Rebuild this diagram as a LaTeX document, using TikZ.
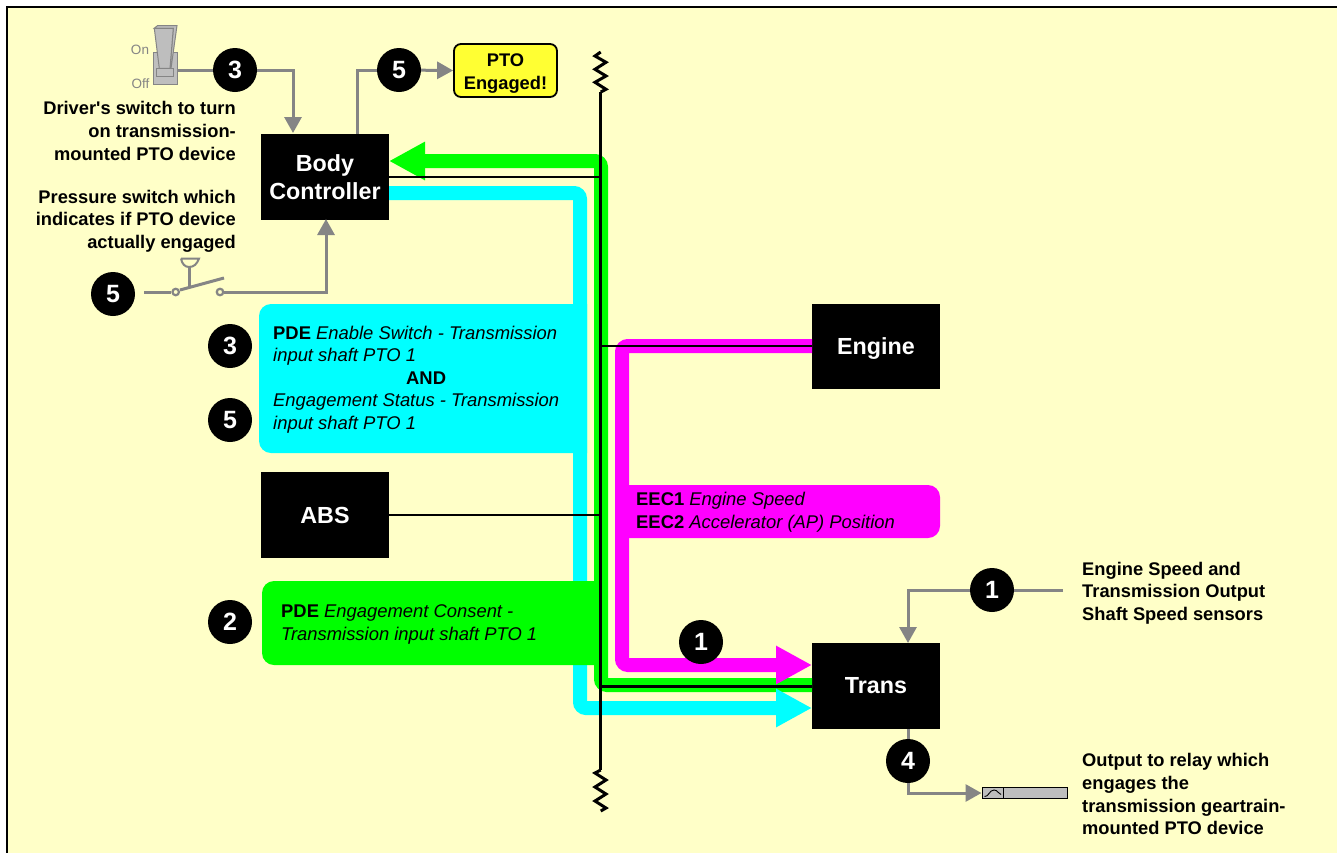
\documentclass[tikz,border=0pt]{standalone}
\usepackage{fontspec}
\setmainfont{Liberation Sans}
\newfontface\plainbold{Liberation Sans Bold}
\usetikzlibrary{arrows.meta}
\definecolor{cream}{HTML}{FFFFC8}
\definecolor{gline}{HTML}{858585}
\definecolor{gfill}{HTML}{BEBEBE}
\definecolor{ggreen}{HTML}{00FF00}
\definecolor{gcyan}{HTML}{00FFFF}
\definecolor{gmag}{HTML}{FF00FF}
\definecolor{pyell}{HTML}{FFFF33}
\tikzset{
  x=1pt,y=-1pt,
  ecu/.style={fill=black,text=white,draw=none,font=\fontsize{23.3}{28}\selectfont\bfseries,align=center,inner sep=0pt,minimum width=128pt},
  num/.style={circle,fill=black,text=white,draw=none,minimum size=44pt,inner sep=0pt,font=\fontsize{25}{25}\selectfont\bfseries},
  lab/.style={inner sep=0pt,font=\fontsize{18.3}{22.6}\selectfont\bfseries},
  msg/.style={inner sep=0pt,anchor=west,font=\fontsize{18.4}{22.6}\selectfont\itshape,align=left},
  bus/.style={line width=3pt,black},
  branch/.style={line width=2.6pt,black},
  sig/.style={line width=3pt,gline},
  sigtip/.style={sig,-{Triangle[length=16pt,width=17pt]}},
  fat/.style={line width=14pt,rounded corners=6pt,-{Triangle[length=36pt,width=36pt]}},
  swpart/.style={draw=gline,fill=gfill,line width=1pt},
  terminal/.style={circle,draw=gline,line width=2.2pt,fill=cream,minimum size=6.5pt,inner sep=0pt},
}
\begin{document}
\begin{tikzpicture}
\useasboundingbox (0,0) rectangle (1337,852);
\fill[white] (0,0) rectangle (1337,852);
\fill[cream,draw=black,line width=2pt] (7,7) rectangle (1350,865);

% nodes: ECUs
\node[ecu,minimum height=86pt] (body) at (325,177) {Body\\Controller};
\node[ecu,minimum height=85pt,text depth=-3pt] (engine) at (876,346.5) {Engine};
\node[ecu,minimum height=86pt] (abs) at (325,515) {ABS};
\node[ecu,minimum height=86pt] (trans) at (876,686) {Trans};

% junction coordinates
\coordinate (bG) at (389,161);
\coordinate (bC) at (389,193);
\coordinate (tG) at (812,685);
\coordinate (tC) at (812,708);
\coordinate (tM) at (812,665);
\coordinate (eM) at (812,346);

% fat message arrows
\draw[fat,ggreen] (tG) -- (601,685) -- (601,161) -- (bG);
\draw[fat,gcyan] (bC) -- (580,193) -- (580,708) -- (tC);
\fill[gcyan,rounded corners=12pt] (587,304) -- (259,304) -- (259,453) -- (587,453);
\fill[ggreen,rounded corners=12pt] (600,581) -- (262,581) -- (262,665) -- (600,665);
\draw[fat,gmag] (eM) -- (622,346) -- (622,665) -- (tM);
\fill[gmag,rounded corners=12pt] (622,485) -- (940,485) -- (940,538) -- (622,538);

% bus
\coordinate (busT) at (600.7,92);
\coordinate (busB) at (600.7,770);
\draw[bus,line join=miter] (busT) -- (606,89.3) -- (595,82.3) -- (606,76) -- (595,69.3) -- (606,62.3) -- (595,56) -- (600.7,52);
\draw[bus,line join=miter] (busB) -- (595,773) -- (606,780) -- (595,787) -- (606,794) -- (595,801) -- (606,808) -- (600.7,811);
\draw[bus] (busT) -- (busB);
\draw[branch] (body.east |- 0,177) -- (600.7,177);
\draw[branch] (engine.west |- 0,346) -- (600.7,346);
\draw[branch] (abs.east) -- (600.7,515);
\draw[branch] (trans.west |- 0,686.5) -- (600.7,686.5);

% message text
\node[msg] (m1) at (273,379.5) {\textbf{\textup{PDE}} Enable Switch - Transmission\\input shaft PTO 1\\\hspace*{133pt}\textbf{\textup{AND}}\\Engagement Status - Transmission\\input shaft PTO 1};
\node[msg] (m2) at (281,624.5) {\textbf{\textup{PDE}} Engagement Consent -\\Transmission input shaft PTO 1};
\node[msg] (m3) at (636,512) {\textbf{\textup{EEC1}} Engine Speed\\\textbf{\textup{EEC2}} Accelerator (AP) Position};

% labels
\node[lab,align=right,anchor=east] (l1) at (236,131) {Driver{\plainbold'}s switch to turn\\on transmission-\\mounted PTO device};
\node[lab,align=right,anchor=east] (l2) at (236,221) {Pressure switch which\\indicates if PTO device\\actually engaged};
\node[lab,align=left,anchor=west] (l3) at (1082,593) {Engine Speed and\\Transmission Output\\Shaft Speed sensors};
\node[lab,align=left,anchor=west] (l4) at (1082,794.3) {Output to relay which\\engages the\\transmission geartrain-\\mounted PTO device};

% PTO lamp
\node[draw=black,fill=pyell,line width=1.8pt,rounded corners=7pt,minimum width=103pt,minimum height=53pt,inner sep=0pt,align=center,font=\fontsize{18.3}{22.6}\selectfont\bfseries] (lamp) at (505.5,70.5) {\rule{0pt}{19pt}PTO\\Engaged!};

% toggle switch
\draw[swpart] (153.3,52.3) rectangle (177,84);
\draw[swpart] (156.7,68) rectangle (173.3,76);
\draw[swpart] (154.3,28.3) -- (157.5,25.6) -- (177,25.6) -- (171,68.3) -- (170,68.3) -- (173.3,28.3) -- cycle;
\draw[swpart] (154.3,28.3) -- (173.3,28.3) -- (170,68.3) -- (159.3,68.3) -- cycle;
\node[inner sep=0pt,text=gline,font=\fontsize{13.5}{14}\selectfont] (on) at (140,50) {On};
\node[inner sep=0pt,text=gline,font=\fontsize{13.5}{14}\selectfont] (off) at (140.5,84) {Off};
\coordinate (swOut) at (177,70);

% pressure switch
\node[terminal] (p1) at (175.7,292) {};
\node[terminal] (p2) at (220,292) {};
\draw[gline,line width=3pt] (180,290) -- (224,278);
\draw[gline,line width=3pt] (189,267) -- (189,287);
\draw[gline,line width=2pt] (181,258.5) -- (199,258.5) .. controls (197,264) and (194,267) .. (189,267) .. controls (185,267) and (182,264) .. (181,258.5);

% numbered circles
\node[num] (n3a) at (235,70) {3};
\node[num] (n5a) at (399,70) {5};
\node[num] (n5b) at (113,294) {5};
\node[num] (n3b) at (230,346) {3};
\node[num] (n5c) at (230,420) {5};
\node[num] (n2) at (230,622) {2};
\node[num] (n1a) at (701,642) {1};
\node[num] (n1b) at (992,590) {1};
\node[num] (n4) at (908,761) {4};

% grey connectors
\draw[sig] (swOut) -- (n3a);
\coordinate (bIn) at (293,133);
\draw[sigtip] (n3a) -| (bIn);
\coordinate (bOut) at (357,134);
\draw[sig] (bOut) |- (n5a);
\draw[sigtip] (n5a) -- (lamp.west);
\coordinate (pL) at (144,292);
\draw[sig] (pL) -- (p1);
\coordinate (bUp) at (326,219);
\draw[sigtip] (p2) -| (bUp);
\coordinate (sens) at (1063,590);
\draw[sig] (sens) -- (n1b);
\coordinate (tIn) at (908,643);
\draw[sigtip] (n1b) -| (tIn);
\coordinate (tOut) at (908,729);
\draw[sig] (tOut) -- (n4);
\node[draw=black,fill=gfill,line width=1pt,minimum width=85pt,minimum height=10.5pt,inner sep=0pt] (relay) at (1024.5,793) {};
\draw[sigtip] (n4) |- (relay.west);
\draw[black,line width=.8pt] (1003,788) -- (1003,798);
\draw[black,line width=.9pt] (984.5,796.5) .. controls (989,797) and (989,790) .. (994,790) .. controls (998,790) and (998,794) .. (1001,794.5);
\end{tikzpicture}
\end{document}
